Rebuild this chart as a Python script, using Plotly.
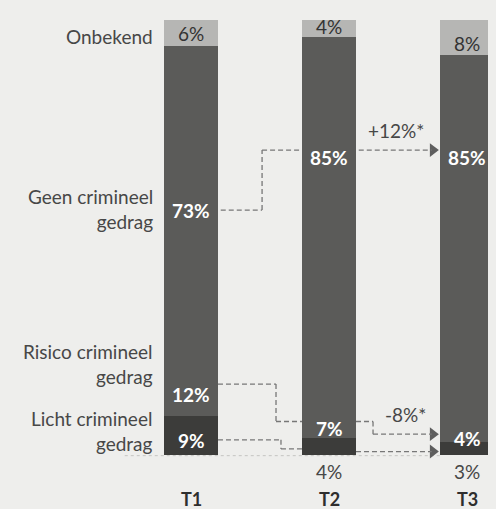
import plotly.graph_objects as go

# ---- data ----
times = ["T1", "T2", "T3"]
licht = [9, 4, 3]
risico = [12, 7, 4]
geen = [73, 85, 85]
onbekend = [6, 4, 8]
series_names = ["Licht crimineel<br>gedrag", "Risico crimineel<br>gedrag",
                "Geen crimineel<br>gedrag", "Onbekend"]
change_labels = ["+12%*", "-8%*"]

# ---- style ----
BG = "#eeeeec"
COLORS = ["#3c3c3a", "#5b5b59", "#5b5b59", "#b6b6b4"]
TXT = "#474747"
FONT = "Lato, 'Open Sans', sans-serif"
BW = 0.391
xs = [0, 1, 2]

fig = go.Figure()
series = [licht, risico, geen, onbekend]
for vals, col, name in zip(series, COLORS, series_names):
    fig.add_trace(go.Bar(x=xs, y=vals, marker=dict(color=col, line=dict(width=0)),
                         width=BW, name=name, showlegend=False, hoverinfo="skip"))

ann = []
def txt(x, y, t, color=TXT, size=19, bold=False, xanchor="center"):
    if bold:
        t = "<b>" + t + "</b>"
    ann.append(dict(x=x, y=y, xref="x", yref="y", text=t, showarrow=False,
                    font=dict(color=color, size=size, family=FONT),
                    xanchor=xanchor, yanchor="middle",
                    align="right" if xanchor == "right" else "center"))

# left category labels
LX = -0.261
txt(LX, 96.2, "Onbekend", xanchor="right")
txt(LX, 56.6, "Geen crimineel<br>gedrag", xanchor="right")
txt(LX, 20.9, "Risico crimineel<br>gedrag", xanchor="right")
txt(LX, 5.5, "Licht crimineel<br>gedrag", xanchor="right")

# label vertical positions (layout choices)
geen_ly = [56.3, 68.5, 68.5]
risico_ly = [13.8, 6.2, 3.8]
licht_ly = [3.4, -3.7, -3.7]
onb_ly = [97.0, 98.4, 94.6]
for i in range(3):
    txt(xs[i], onb_ly[i], f"{onbekend[i]}%", color="#333333")
    txt(xs[i], geen_ly[i], f"{geen[i]}%", color="white", bold=True)
    txt(xs[i], risico_ly[i], f"{risico[i]}%", color="white", bold=True)
    inside = licht_ly[i] > 0
    txt(xs[i], licht_ly[i], f"{licht[i]}%", color="white" if inside else TXT, bold=inside)
    txt(xs[i], -10.2, times[i], color="#2e2e2e", size=18, bold=True)

txt(1.486, 74.7, change_labels[0])
txt(1.551, 9.3, change_labels[1])

# dashed connectors
shapes = []
DASH = dict(color="#777777", width=1.3, dash="5px,3px")
def seg(x0, y0, x1, y1):
    shapes.append(dict(type="line", xref="x", yref="y", x0=x0, y0=y0, x1=x1, y1=y1,
                       line=DASH, layer="above"))

h = BW / 2
tip = 2 - h - 0.06
# Geen
seg(0 + h + 0.02, 56.3, 0.515, 56.3); seg(0.515, 56.3, 0.515, 70.1); seg(0.515, 70.1, 1 - h, 70.1)
seg(1 + h + 0.02, 70.1, tip, 70.1)
# Risico
seg(0 + h, 16.3, 0.616, 16.3); seg(0.616, 16.3, 0.616, 7.7); seg(0.616, 7.7, 1 - h, 7.7)
seg(1 + h, 7.7, 1.319, 7.7); seg(1.319, 7.7, 1.319, 4.8); seg(1.319, 4.8, tip, 4.8)
# Licht
seg(0 + h, 3.5, 0.652, 3.5); seg(0.652, 3.5, 0.652, 1.4); seg(0.652, 1.4, 1 - h, 1.4)
seg(1 + h, 0.8, tip, 0.8)
# faint baseline
shapes.append(dict(type="line", xref="x", yref="y", x0=-0.48, y0=-0.15, x1=2 - h, y1=-0.15,
                   line=dict(color="#c4c4c2", width=1, dash="dot"), layer="below"))

# arrow heads
fig.add_trace(go.Scatter(x=[2 - h - 0.052] * 3, y=[70.1, 4.8, 0.8], mode="markers",
                         marker=dict(symbol="triangle-right", size=12, color="#5e5e5e"),
                         showlegend=False, hoverinfo="skip"))

fig.update_layout(
    barmode="stack", bargap=0,
    width=488, height=501,
    margin=dict(l=0, r=0, t=0, b=0),
    paper_bgcolor=BG, plot_bgcolor=BG,
    xaxis=dict(range=[-1.326, 2.210], visible=False, fixedrange=True),
    yaxis=dict(range=[-12.41, 102.76], visible=False, fixedrange=True),
    annotations=ann, shapes=shapes,
    showlegend=False,
)
fig.write_html("out.html", post_script=(
    "document.body.style.background='%s';"
    "document.documentElement.style.background='%s';" % (BG, BG)))
